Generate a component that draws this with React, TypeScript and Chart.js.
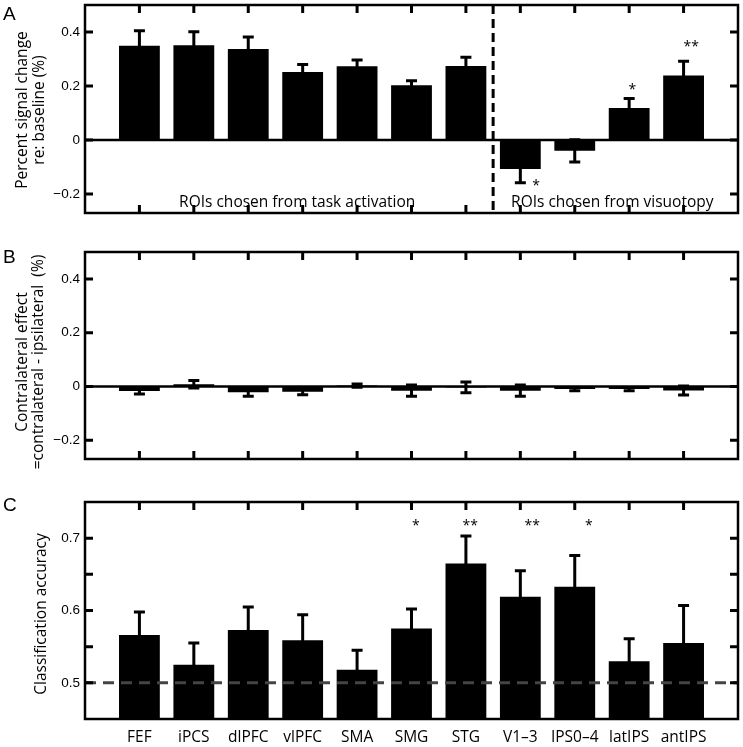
import React, { useEffect, useRef } from 'react';
import { Chart, registerables } from 'chart.js';

Chart.register(...registerables);

// ---------- data ----------
const categories = ['FEF', 'iPCS', 'dlPFC', 'vlPFC', 'SMA', 'SMG', 'STG', 'V1–3', 'IPS0–4', 'latIPS', 'antIPS'];

// Panel A: percent signal change re: baseline
const signalMeans = [0.349, 0.351, 0.337, 0.252, 0.273, 0.203, 0.274, -0.107, -0.04, 0.119, 0.239];
const signalErrors = [0.056, 0.05, 0.045, 0.028, 0.023, 0.017, 0.033, 0.051, 0.041, 0.035, 0.053];
const signalRange = [-0.27, 0.5];
const signalTicks = [-0.2, 0, 0.2, 0.4];
const signalStars = [
  { x: 8.29, y: -0.155, text: '*' },
  { x: 10.06, y: 0.2, text: '*' },
  { x: 11.14, y: 0.36, text: '**' },
];
const groupLabels = [
  { x: 3.9, y: -0.247, text: 'ROIs chosen from task activation' },
  { x: 9.69, y: -0.247, text: 'ROIs chosen from visuotopy' },
];
const groupDivider = 7.5;

// Panel B: contralateral effect
const contraMeans = [-0.017, 0.008, -0.022, -0.02, 0.003, -0.016, -0.004, -0.016, -0.01, -0.01, -0.015];
const contraErrors = [0.011, 0.014, 0.015, 0.011, 0.006, 0.021, 0.02, 0.021, 0.006, 0.006, 0.017];
const contraRange = [-0.27, 0.5];
const contraTicks = [-0.2, 0, 0.2, 0.4];

// Panel C: classification accuracy
const accuracyMeans = [0.566, 0.525, 0.573, 0.559, 0.518, 0.575, 0.665, 0.619, 0.633, 0.53, 0.555];
const accuracyErrors = [0.032, 0.03, 0.032, 0.035, 0.027, 0.027, 0.038, 0.036, 0.043, 0.031, 0.052];
const accuracyRange = [0.45, 0.75];
const accuracyTicks = [0.5, 0.55, 0.6, 0.65, 0.7];
const accuracyTickLabels = ['0.5', '', '0.6', '', '0.7'];
const accuracyStars = [
  { x: 6.08, y: 0.722, text: '*' },
  { x: 7.08, y: 0.722, text: '**' },
  { x: 8.22, y: 0.722, text: '**' },
  { x: 9.26, y: 0.722, text: '*' },
];
const chanceLevel = 0.5;

// ---------- helpers ----------
const HUMANIST = '"Open Sans", "Noto Sans", sans-serif';
const HELV = '"Liberation Sans", Arial, sans-serif';

const fmt = (v: number) => (v === 0 ? '0' : (v < 0 ? '−' : '') + String(Math.abs(v)));

type Star = { x: number; y: number; text: string };
type Spec = {
  top: number;
  height: number;
  padTop: number;
  padBottom: number;
  xAxisHeight: number;
  means: number[];
  errors: number[];
  range: number[];
  ticks: number[];
  tickLabels: string[];
  showCategoryLabels: boolean;
  titleLines: string[];
  titleX: number[];
  titleCenterY: number;
  letter: string;
  letterY: number;
  zeroLine: boolean;
  divider?: number;
  chance?: number;
  stars: Star[];
  texts?: Star[];
};

const specs: Spec[] = [
  {
    top: 0, height: 240, padTop: 5, padBottom: 27, xAxisHeight: 0,
    means: signalMeans, errors: signalErrors, range: signalRange, ticks: signalTicks,
    tickLabels: signalTicks.map(fmt), showCategoryLabels: false,
    titleLines: ['Percent signal change', 're: baseline (%)'], titleX: [27, 44], titleCenterY: 110,
    letter: 'A', letterY: 20, zeroLine: true, divider: groupDivider, stars: signalStars, texts: groupLabels,
  },
  {
    top: 240, height: 240, padTop: 12, padBottom: 21, xAxisHeight: 0,
    means: contraMeans, errors: contraErrors, range: contraRange, ticks: contraTicks,
    tickLabels: contraTicks.map(fmt), showCategoryLabels: false,
    titleLines: ['Contralateral effect', '=contralateral - ipsilateral  (%)'], titleX: [27, 43], titleCenterY: 122,
    letter: 'B', letterY: 23, zeroLine: true, stars: [],
  },
  {
    top: 480, height: 267, padTop: 22, padBottom: 0, xAxisHeight: 28,
    means: accuracyMeans, errors: accuracyErrors, range: accuracyRange, ticks: accuracyTicks,
    tickLabels: accuracyTickLabels, showCategoryLabels: true,
    titleLines: ['Classification accuracy'], titleX: [46], titleCenterY: 134,
    letter: 'C', letterY: 31, zeroLine: false, chance: chanceLevel, stars: accuracyStars,
  },
];

const decorPlugin = (spec: Spec) => ({
  id: 'panelDecor',
  afterDatasetsDraw(chart: any) {
    const { ctx, chartArea: a, scales } = chart;
    const xs = scales.x;
    const ys = scales.y;
    ctx.save();
    ctx.beginPath();
    ctx.rect(a.left, a.top, a.right - a.left, a.bottom - a.top);
    ctx.clip();
    ctx.strokeStyle = '#000';
    ctx.lineCap = 'butt';

    if (spec.zeroLine) {
      const y0 = ys.getPixelForValue(0);
      ctx.lineWidth = 2.5;
      ctx.beginPath();
      ctx.moveTo(a.left, y0);
      ctx.lineTo(a.right, y0);
      ctx.stroke();
    }

    // error bars
    ctx.lineWidth = 3;
    spec.means.forEach((m, i) => {
      const x = xs.getPixelForValue(i + 1);
      const yt = ys.getPixelForValue(m + spec.errors[i]);
      const yb = ys.getPixelForValue(m - spec.errors[i]);
      ctx.beginPath();
      ctx.moveTo(x, yt);
      ctx.lineTo(x, yb);
      ctx.moveTo(x - 5.5, yt);
      ctx.lineTo(x + 5.5, yt);
      ctx.moveTo(x - 5.5, yb);
      ctx.lineTo(x + 5.5, yb);
      ctx.stroke();
    });

    if (spec.chance !== undefined) {
      const yc = ys.getPixelForValue(spec.chance);
      ctx.save();
      ctx.strokeStyle = '#444';
      ctx.lineWidth = 3;
      ctx.setLineDash([11, 7]);
      ctx.beginPath();
      ctx.moveTo(a.left, yc);
      ctx.lineTo(a.right, yc);
      ctx.stroke();
      ctx.restore();
    }

    if (spec.divider !== undefined) {
      const xd = xs.getPixelForValue(spec.divider);
      ctx.save();
      ctx.lineWidth = 3;
      ctx.setLineDash([9, 5]);
      ctx.beginPath();
      ctx.moveTo(xd, a.top);
      ctx.lineTo(xd, a.bottom);
      ctx.stroke();
      ctx.restore();
    }
    ctx.restore();

    // stars and in-plot labels
    ctx.save();
    ctx.fillStyle = '#000';
    ctx.textAlign = 'center';
    ctx.textBaseline = 'alphabetic';
    ctx.font = `14px ${HUMANIST}`;
    spec.stars.forEach((s) => {
      ctx.fillText(s.text, xs.getPixelForValue(s.x), ys.getPixelForValue(s.y) + 8);
    });
    ctx.font = `15.5px ${HUMANIST}`;
    (spec.texts || []).forEach((t) => {
      ctx.fillText(t.text, xs.getPixelForValue(t.x), ys.getPixelForValue(t.y));
    });
    ctx.restore();

    // axes box and inward ticks
    ctx.save();
    ctx.strokeStyle = '#000';
    ctx.lineWidth = 2.5;
    ctx.lineCap = 'butt';
    ctx.beginPath();
    ctx.rect(a.left, a.top, a.right - a.left, a.bottom - a.top);
    ctx.stroke();
    ctx.lineWidth = 3;
    ctx.beginPath();
    spec.ticks.forEach((v) => {
      const y = ys.getPixelForValue(v);
      ctx.moveTo(a.left, y);
      ctx.lineTo(a.left + 8, y);
      ctx.moveTo(a.right, y);
      ctx.lineTo(a.right - 8, y);
    });
    categories.forEach((_, i) => {
      const x = xs.getPixelForValue(i + 1);
      ctx.moveTo(x, a.top);
      ctx.lineTo(x, a.top + 8);
      ctx.moveTo(x, a.bottom);
      ctx.lineTo(x, a.bottom - 8);
    });
    ctx.stroke();
    ctx.restore();
  },
  afterDraw(chart: any) {
    const { ctx } = chart;
    ctx.save();
    ctx.fillStyle = '#000';
    ctx.textAlign = 'center';
    ctx.textBaseline = 'alphabetic';
    ctx.font = `15.5px ${HUMANIST}`;
    spec.titleLines.forEach((line, i) => {
      ctx.save();
      ctx.translate(spec.titleX[i], spec.titleCenterY);
      ctx.rotate(-Math.PI / 2);
      ctx.fillText(line, 0, 0);
      ctx.restore();
    });
    ctx.textAlign = 'left';
    ctx.font = `19px ${HELV}`;
    ctx.fillText(spec.letter, 3, spec.letterY);
    ctx.restore();
  },
});

function makeChart(canvas: HTMLCanvasElement, spec: Spec) {
  return new Chart(canvas, {
    type: 'bar',
    data: {
      labels: ['', ...categories, ''],
      datasets: [
        {
          data: [null, ...spec.means, null],
          backgroundColor: '#000',
          borderWidth: 0,
          barPercentage: 0.75,
          categoryPercentage: 1,
          clip: 0,
        } as any,
      ],
    },
    options: {
      responsive: false,
      animation: false,
      devicePixelRatio: 1,
      events: [],
      layout: { padding: { left: 0, right: 5, top: spec.padTop, bottom: spec.padBottom } },
      plugins: { legend: { display: false }, tooltip: { enabled: false } },
      scales: {
        x: {
          type: 'category',
          offset: false,
          grid: { display: false, drawTicks: false },
          border: { display: false },
          ticks: {
            display: spec.showCategoryLabels,
            autoSkip: false,
            maxRotation: 0,
            minRotation: 0,
            padding: 9,
            color: '#000',
            font: { family: HUMANIST, size: 15.5 },
          },
          afterFit: (s: any) => {
            s.height = spec.xAxisHeight;
            s.paddingLeft = 0;
            s.paddingRight = 0;
          },
        },
        y: {
          type: 'linear',
          min: spec.range[0],
          max: spec.range[1],
          grid: { display: false, drawTicks: false },
          border: { display: false },
          ticks: {
            color: '#000',
            padding: 5,
            font: { family: HELV, size: 13.5 },
            callback: (_v: any, i: number) => spec.tickLabels[i],
          },
          afterBuildTicks: (s: any) => {
            s.ticks = spec.ticks.map((v) => ({ value: v }));
          },
          afterFit: (s: any) => {
            s.width = 85;
            s.paddingTop = 0;
            s.paddingBottom = 0;
          },
        },
      },
    } as any,
    plugins: [decorPlugin(spec)],
  });
}

export default function App() {
  const r0 = useRef<HTMLCanvasElement>(null);
  const r1 = useRef<HTMLCanvasElement>(null);
  const r2 = useRef<HTMLCanvasElement>(null);
  const refs = [r0, r1, r2];

  useEffect(() => {
    const charts = refs.map((r, i) => makeChart(r.current as HTMLCanvasElement, specs[i]));
    return () => charts.forEach((c) => c.destroy());
  }, []);

  return (
    <div style={{ position: 'absolute', left: 0, top: 0, width: 743, height: 747, background: '#fff' }}>
      {specs.map((s, i) => (
        <canvas
          key={i}
          ref={refs[i]}
          width={743}
          height={s.height}
          style={{ position: 'absolute', left: 0, top: s.top, width: 743, height: s.height }}
        />
      ))}
    </div>
  );
}
